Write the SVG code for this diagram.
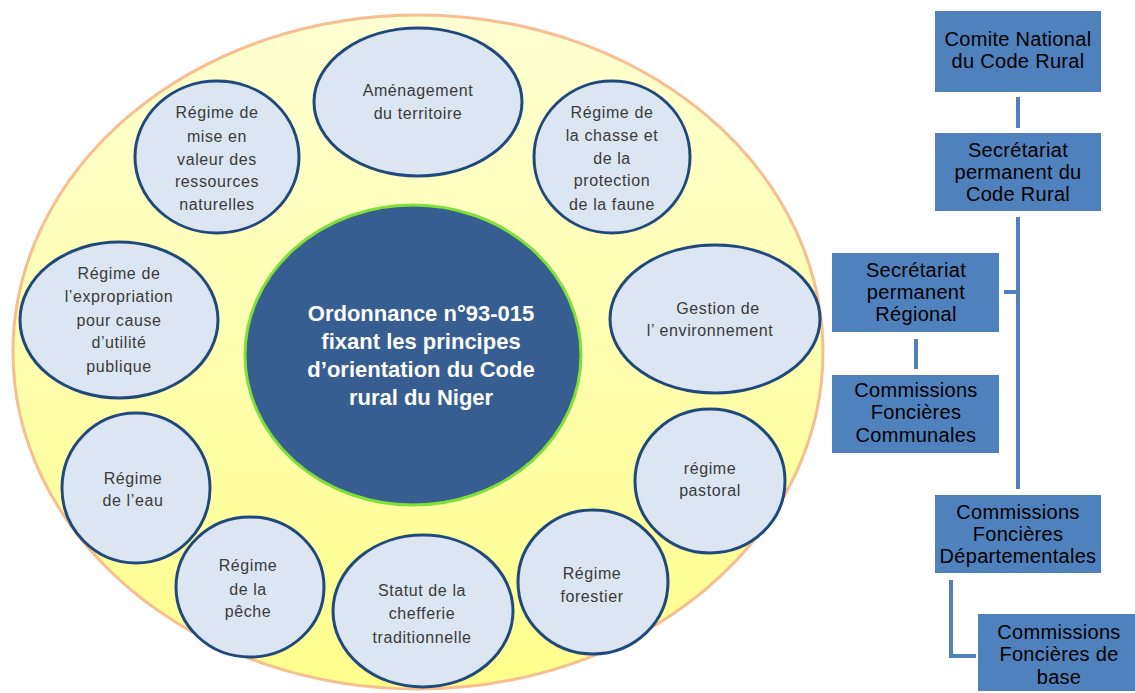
<svg xmlns="http://www.w3.org/2000/svg" width="1135" height="693" viewBox="0 0 1135 693">
<defs>
<linearGradient id="yg" x1="0" y1="0" x2="0" y2="1">
<stop offset="0" stop-color="#FFFFD2"/>
<stop offset="1" stop-color="#FFFF8C"/>
</linearGradient>
<style>
.c{fill:#DCE6F2;stroke:#1F497D;stroke-width:3}
.ct{font-family:"Liberation Sans",Arial,sans-serif;font-size:16px;fill:#3A3A3A;text-anchor:middle;letter-spacing:0.6px}
.ht{font-family:"Liberation Sans",Arial,sans-serif;font-size:22px;font-weight:bold;fill:#FFFFFF;text-anchor:middle}
.b{fill:#4F81BD}
.bt{font-family:"Liberation Sans",Arial,sans-serif;font-size:20px;fill:#000000;text-anchor:middle;letter-spacing:0.3px}
.ln{stroke:#4F81BD;stroke-width:4;fill:none}
</style>
</defs>
<rect width="1135" height="693" fill="#FFFFFF"/>
<g id="outer">
<ellipse cx="418" cy="352" rx="405" ry="337" fill="url(#yg)" stroke="#F7BE90" stroke-width="3"/>
</g>
<g id="center">
<ellipse cx="413" cy="355" rx="168" ry="150" fill="#365E91" stroke="#7FE03A" stroke-width="3"/>
<text class="ht" x="421" y="321">Ordonnance n°93-015</text>
<text class="ht" x="421" y="349">fixant les principes</text>
<text class="ht" x="421" y="377">d’orientation du Code</text>
<text class="ht" x="421" y="405">rural du Niger</text>
</g>
<g id="amenagement">
<ellipse class="c" cx="418" cy="102" rx="104" ry="74"/>
<text class="ct" x="418" y="96">Aménagement</text>
<text class="ct" x="418" y="119">du territoire</text>
</g>
<g id="mise-en-valeur">
<ellipse class="c" cx="217" cy="157" rx="82" ry="76"/>
<text class="ct" x="217" y="118">Régime de</text>
<text class="ct" x="217" y="142">mise en</text>
<text class="ct" x="217" y="165">valeur des</text>
<text class="ct" x="217" y="187">ressources</text>
<text class="ct" x="217" y="210">naturelles</text>
</g>
<g id="chasse">
<ellipse class="c" cx="612" cy="157" rx="78" ry="76"/>
<text class="ct" x="612" y="118">Régime de</text>
<text class="ct" x="612" y="141">la chasse et</text>
<text class="ct" x="612" y="164">de la</text>
<text class="ct" x="612" y="186">protection</text>
<text class="ct" x="612" y="210">de la faune</text>
</g>
<g id="expropriation">
<ellipse class="c" cx="119" cy="320" rx="99" ry="78"/>
<text class="ct" x="119" y="279">Régime de</text>
<text class="ct" x="119" y="302">l’expropriation</text>
<text class="ct" x="119" y="326">pour cause</text>
<text class="ct" x="119" y="348">d’utilité</text>
<text class="ct" x="119" y="372">publique</text>
</g>
<g id="gestion">
<ellipse class="c" cx="715" cy="319" rx="105" ry="74"/>
<text class="ct" x="718" y="314">Gestion de</text>
<text class="ct" x="710" y="336">l’ environnement</text>
</g>
<g id="eau">
<ellipse class="c" cx="136" cy="488" rx="74" ry="75"/>
<text class="ct" x="133" y="484">Régime</text>
<text class="ct" x="133" y="506">de l’eau</text>
</g>
<g id="pastoral">
<ellipse class="c" cx="710" cy="481" rx="75" ry="72"/>
<text class="ct" x="710" y="474">régime</text>
<text class="ct" x="710" y="496">pastoral</text>
</g>
<g id="peche">
<ellipse class="c" cx="250" cy="587" rx="74" ry="70"/>
<text class="ct" x="248" y="571">Régime</text>
<text class="ct" x="248" y="595">de la</text>
<text class="ct" x="248" y="617">pêche</text>
</g>
<g id="statut">
<ellipse class="c" cx="423" cy="611" rx="90" ry="76"/>
<text class="ct" x="422" y="596">Statut de la</text>
<text class="ct" x="422" y="619">chefferie</text>
<text class="ct" x="422" y="643">traditionnelle</text>
</g>
<g id="forestier">
<ellipse class="c" cx="593" cy="582" rx="75" ry="72"/>
<text class="ct" x="592" y="579">Régime</text>
<text class="ct" x="592" y="602">forestier</text>
</g>
<g id="connectors">
<line class="ln" x1="1018" y1="97" x2="1018" y2="128"/>
<line class="ln" x1="1018" y1="217" x2="1018" y2="489"/>
<line class="ln" x1="1004" y1="292" x2="1018" y2="292"/>
<line class="ln" x1="916" y1="339" x2="916" y2="369"/>
<polyline class="ln" points="951,580 951,656 976,656"/>
</g>
<g id="comite">
<rect class="b" x="935" y="11" width="166" height="81"/>
<text class="bt" x="1018" y="46">Comite National</text>
<text class="bt" x="1018" y="68">du Code Rural</text>
</g>
<g id="sp-code-rural">
<rect class="b" x="935" y="133" width="166" height="78"/>
<text class="bt" x="1018" y="157">Secrétariat</text>
<text class="bt" x="1018" y="179">permanent du</text>
<text class="bt" x="1018" y="201">Code Rural</text>
</g>
<g id="sp-regional">
<rect class="b" x="832" y="253" width="167" height="79"/>
<text class="bt" x="916" y="277">Secrétariat</text>
<text class="bt" x="916" y="299">permanent</text>
<text class="bt" x="916" y="321">Régional</text>
</g>
<g id="cf-communales">
<rect class="b" x="832" y="375" width="167" height="78"/>
<text class="bt" x="916" y="397">Commissions</text>
<text class="bt" x="916" y="419">Foncières</text>
<text class="bt" x="916" y="442">Communales</text>
</g>
<g id="cf-departementales">
<rect class="b" x="935" y="495" width="166" height="78"/>
<text class="bt" x="1018" y="519">Commissions</text>
<text class="bt" x="1018" y="541">Foncières</text>
<text class="bt" x="1018" y="563">Départementales</text>
</g>
<g id="cf-base">
<rect class="b" x="978" y="614" width="157" height="77"/>
<text class="bt" x="1059" y="639">Commissions</text>
<text class="bt" x="1059" y="661">Foncières de</text>
<text class="bt" x="1059" y="684">base</text>
</g>
</svg>
